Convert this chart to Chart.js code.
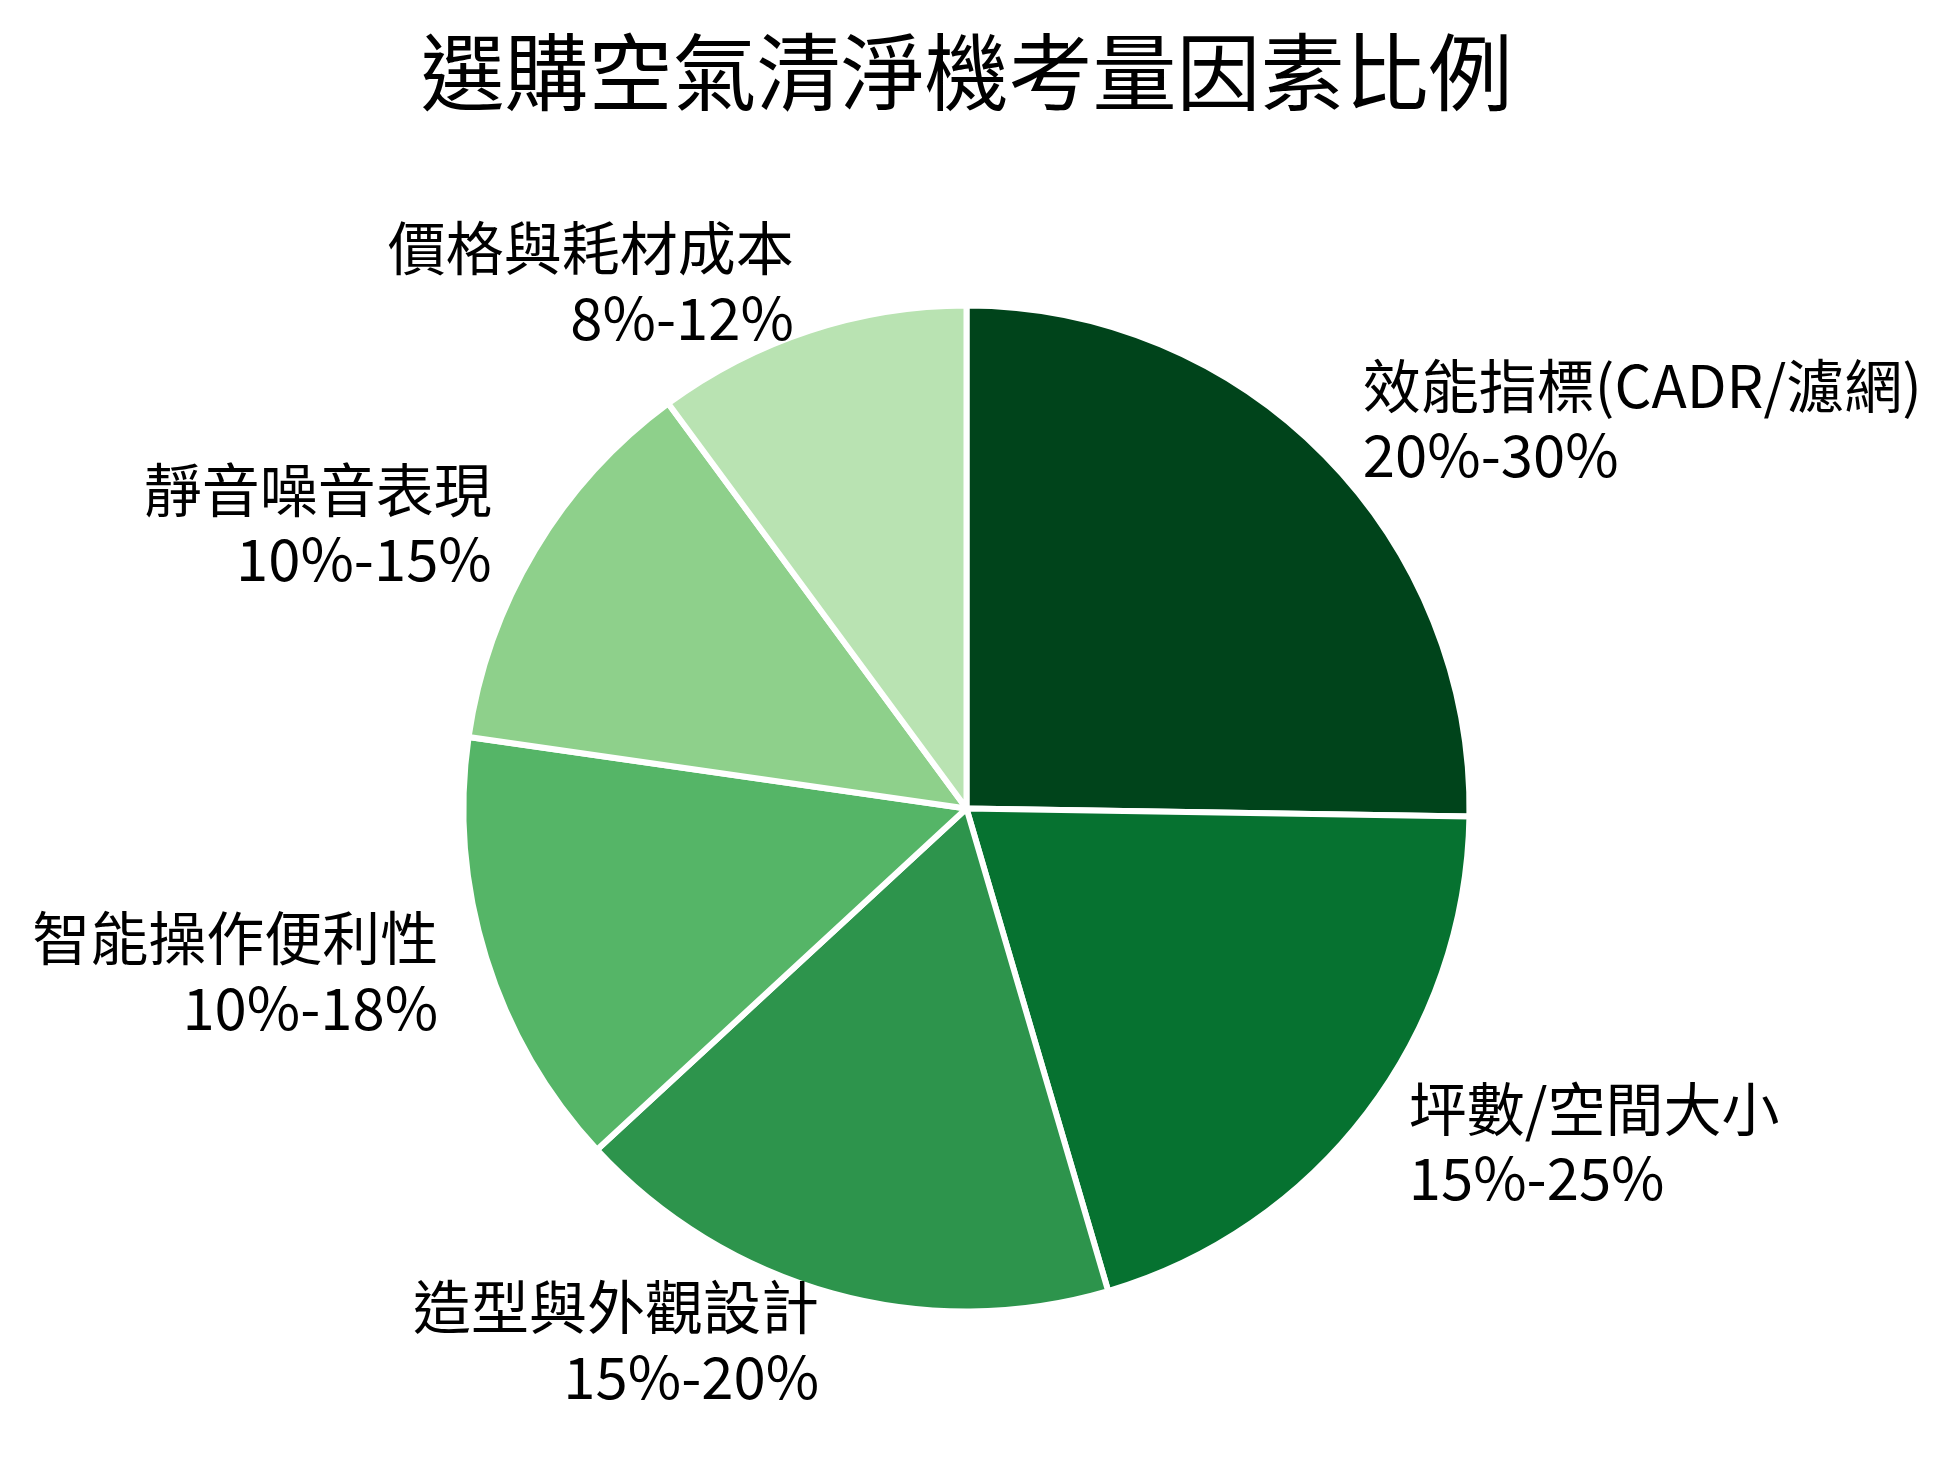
<!DOCTYPE html>
<html>
<head>
<meta charset="utf-8">
<script src="https://cdn.jsdelivr.net/npm/chart.js@4"></script>
<style>
  html, body { margin: 0; padding: 0; background: #ffffff; }
  #wrap { width: 1953px; height: 1468px; }
</style>
</head>
<body>
<div id="wrap"><canvas id="pieChart" width="1953" height="1468"></canvas></div>
<script>
// datos del gráfico
const categories = ['效能指標(CADR/濾網)', '坪數/空間大小', '造型與外觀設計', '智能操作便利性', '靜音噪音表現', '價格與耗材成本'];
const ranges = ['20%-30%', '15%-25%', '15%-20%', '10%-18%', '10%-15%', '8%-12%'];
const values = [25, 20, 17.5, 14, 12.5, 10];
const colors = ['#00441b', '#067230', '#2d944c', '#55b567', '#8ed08b', '#b9e3b2'];

const FONT = '"Noto Sans CJK TC", "Noto Sans CJK SC", sans-serif';

// etiquetas fuera del pastel, estilo matplotlib (1.1 x radio)
const outsideLabels = {
  id: 'outsideLabels',
  afterDatasetsDraw(chart) {
    const ctx = chart.ctx;
    const meta = chart.getDatasetMeta(0);
    const size = 58;
    const lineGap = size * 1.2;
    ctx.save();
    ctx.font = size + 'px ' + FONT;
    ctx.fillStyle = '#000000';
    ctx.textBaseline = 'middle';
    meta.data.forEach((arc, i) => {
      const p = arc.getProps(['x', 'y', 'startAngle', 'endAngle', 'outerRadius'], true);
      const mid = (p.startAngle + p.endAngle) / 2;
      const r = p.outerRadius * 1.1;
      let x = p.x + Math.cos(mid) * r;
      const y = p.y + Math.sin(mid) * r;
      const left = Math.cos(mid) >= 0;
      ctx.textAlign = left ? 'left' : 'right';
      if (left) x += 2;
      ctx.fillText(categories[i], x, y - lineGap / 2);
      ctx.fillText(ranges[i], x, y + lineGap / 2);
    });
    ctx.restore();
  }
};

const ctx = document.getElementById('pieChart').getContext('2d');
const pieChart = new Chart(ctx, {
  type: 'pie',
  data: {
    labels: categories,
    datasets: [{
      data: values,
      backgroundColor: colors,
      borderColor: '#ffffff',
      borderWidth: 6,
      hoverOffset: 0
    }]
  },
  options: {
    responsive: false,
    devicePixelRatio: 1,
    animation: false,
    radius: 503,
    layout: { padding: { top: 0, bottom: 111, left: 400, right: 420 } },
    plugins: {
      legend: { display: false },
      tooltip: { enabled: false },
      title: {
        display: true,
        text: '選購空氣清淨機考量因素比例',
        color: '#000000',
        font: { family: FONT, size: 84, weight: 'normal', lineHeight: 1.2 },
        padding: { top: 21.6, bottom: 137.6 }
      }
    }
  },
  plugins: [outsideLabels]
});
</script>
</body>
</html>
